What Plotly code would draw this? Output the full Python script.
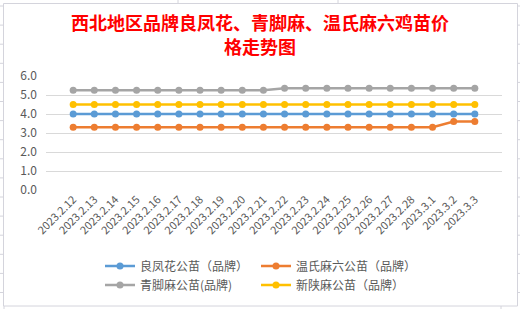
import plotly.graph_objects as go

dates = ["2023.2.12", "2023.2.13", "2023.2.14", "2023.2.15", "2023.2.16", "2023.2.17",
         "2023.2.18", "2023.2.19", "2023.2.20", "2023.2.21", "2023.2.22", "2023.2.23",
         "2023.2.24", "2023.2.25", "2023.2.26", "2023.2.27", "2023.2.28", "2023.3.1",
         "2023.3.2", "2023.3.3"]

liangfenghua = [4.0] * 20
wenshi = [3.3] * 18 + [3.6, 3.6]
qingjiao = [5.25] * 10 + [5.35] * 10
xinshan = [4.5] * 20

names = ["良凤花公苗（品牌）", "温氏麻六公苗（品牌）", "青脚麻公苗(品牌)", "新陕麻公苗（品牌）"]
colors = ["#5B9BD5", "#ED7D31", "#A5A5A5", "#FFC000"]
series = [liangfenghua, wenshi, qingjiao, xinshan]
legends = ["legend", "legend", "legend2", "legend2"]
title_lines = ["西北地区品牌良凤花、青脚麻、温氏麻六鸡苗价", "格走势图"]

W, H = 520, 309
L, R, T, B = 46, 18, 76, 119
PW, PH = W - L - R, H - T - B

fig = go.Figure()
for n, c, s, lg in zip(names, colors, series, legends):
    fig.add_trace(go.Scatter(
        x=dates, y=s, name=n, mode="lines+markers",
        line=dict(color=c, width=2.5),
        marker=dict(color=c, size=7),
        legend=lg,
    ))

def px2x(px):
    return (px - L) / PW

def py2y(py):
    return (H - B - py) / PH

shapes = []
gc = "#D4D4DC"
shapes.append(dict(type="rect", xref="paper", yref="paper",
                   x0=px2x(3.5), x1=px2x(517.5), y0=py2y(3.5), y1=py2y(306),
                   line=dict(color=gc, width=1), layer="below"))
for k in range(16):
    yy = 6 + k * 19.1
    shapes.append(dict(type="line", xref="paper", yref="paper",
                       x0=px2x(0), x1=px2x(3.5), y0=py2y(yy), y1=py2y(yy),
                       line=dict(color=gc, width=1)))
    shapes.append(dict(type="line", xref="paper", yref="paper",
                       x0=px2x(517.5), x1=px2x(520), y0=py2y(yy), y1=py2y(yy),
                       line=dict(color=gc, width=1)))
for xx in [178, 338]:
    shapes.append(dict(type="line", xref="paper", yref="paper",
                       x0=px2x(xx), x1=px2x(xx), y0=py2y(0), y1=py2y(3.5),
                       line=dict(color=gc, width=1)))
for xx in [4, 501]:
    shapes.append(dict(type="line", xref="paper", yref="paper",
                       x0=px2x(xx), x1=px2x(xx), y0=py2y(306), y1=py2y(309),
                       line=dict(color=gc, width=1)))

annotations = []
for txt, cy in zip(title_lines, [22, 46]):
    annotations.append(dict(
        text=txt, xref="paper", yref="paper", x=px2x(260), y=py2y(cy),
        xanchor="center", yanchor="middle", showarrow=False,
        font=dict(family="Noto Sans CJK SC", size=18, color="#FF0000", weight="bold"),
    ))

legend_common = dict(
    orientation="h", xref="container", yref="container",
    xanchor="left", yanchor="middle",
    font=dict(family="Noto Sans CJK SC", size=12, color="#595959"),
    entrywidth=111, entrywidthmode="pixels",
    bgcolor="rgba(0,0,0,0)", itemclick=False, tracegroupgap=0,
)

fig.update_layout(
    width=W, height=H,
    margin=dict(l=L, r=R, t=T, b=B),
    paper_bgcolor="white", plot_bgcolor="white",
    xaxis=dict(
        type="category", tickangle=-45, showgrid=False, zeroline=False,
        showline=False, ticks="",
        tickfont=dict(family="Noto Sans CJK SC", size=11, color="#595959"),
    ),
    yaxis=dict(
        range=[0, 6], dtick=1, tickformat=".1f", showgrid=True,
        gridcolor="#D9D9D9", gridwidth=1, zeroline=False, showline=False,
        ticks="", ticklabelstandoff=8,
        tickfont=dict(family="Noto Sans CJK SC", size=12, color="#595959"),
    ),
    legend=dict(x=100 / W, y=1 - 266 / H, **legend_common),
    legend2=dict(x=100 / W, y=1 - 285 / H, **legend_common),
    shapes=shapes,
    annotations=annotations,
    showlegend=True,
)

fig.write_html("out.html")
